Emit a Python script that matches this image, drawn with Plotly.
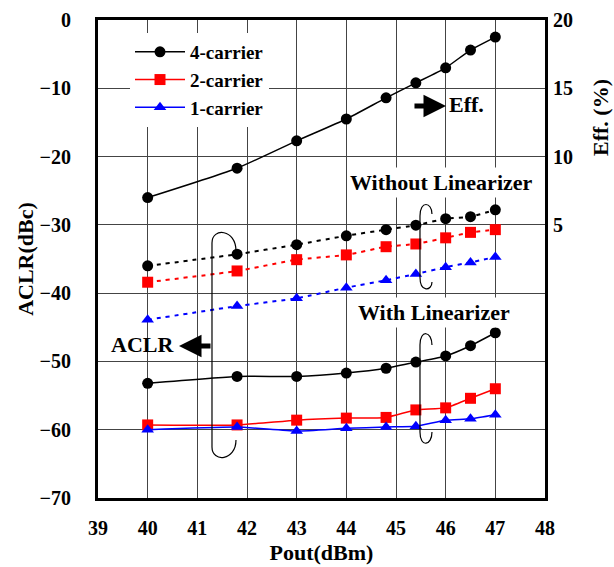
import plotly.graph_objects as go

# ---------------- data ----------------
pout = [40, 41.8, 43, 44, 44.8, 45.4, 46, 46.5, 47]

eff_4c = [7.0, 9.15, 11.15, 12.75, 14.3, 15.4, 16.5, 17.8, 18.75]

aclr_4c_without = [-36.0, -34.3, -32.9, -31.6, -30.7, -30.05, -29.1, -28.8, -27.8]
aclr_2c_without = [-38.4, -36.75, -35.1, -34.4, -33.2, -32.8, -31.9, -31.1, -30.7]
aclr_1c_without = [-43.9, -41.9, -40.75, -39.2, -38.1, -37.2, -36.2, -35.5, -34.7]

aclr_4c_with = [-53.2, -52.2, -52.2, -51.7, -51.0, -50.1, -49.2, -47.7, -45.8]
aclr_2c_with = [-59.3, -59.3, -58.6, -58.3, -58.2, -57.1, -56.8, -55.4, -54.0]
aclr_1c_with = [-60.0, -59.6, -60.2, -59.8, -59.6, -59.5, -58.6, -58.4, -57.8]

x_ticks = [39, 40, 41, 42, 43, 44, 45, 46, 47, 48]
y_ticks = [0, -10, -20, -30, -40, -50, -60, -70]
y2_ticks = [5, 10, 15, 20]

FONT = "Liberation Serif"

# pixel -> data helpers for decorations (plot area 98..545 x, 20..498 y on the page)
def px2x(px):
    return 39 + (px - 98) / 49.67

def px2y(py):
    return -(py - 20) / 6.829

fig = go.Figure()

series = [
    ("4-carrier", "black", "circle", aclr_4c_with, aclr_4c_without),
    ("2-carrier", "red", "square", aclr_2c_with, aclr_2c_without),
    ("1-carrier", "blue", "triangle-up", aclr_1c_with, aclr_1c_without),
]

for name, color, sym, w, wo in series:
    fig.add_trace(go.Scatter(
        x=pout, y=wo, mode="lines+markers", name=name, showlegend=False,
        line=dict(color=color, width=2, dash="4px,5px", shape="spline", smoothing=0.5),
        marker=dict(color=color, symbol=sym, size=11),
    ))

for name, color, sym, w, wo in series:
    fig.add_trace(go.Scatter(
        x=pout, y=w, mode="lines+markers", name=name, showlegend=True,
        line=dict(color=color, width=1.5, shape="spline", smoothing=0.5),
        marker=dict(color=color, symbol=sym, size=11),
    ))

fig.add_trace(go.Scatter(
    x=pout, y=eff_4c, mode="lines+markers", name="Eff", showlegend=False, yaxis="y2",
    line=dict(color="black", width=1.5, shape="spline", smoothing=0.5),
    marker=dict(color="black", symbol="circle", size=11),
))

def loop(xl, xr, ytop, ybot, top_r, bot_r):
    pts = [
        ("M", [(xr, ytop + top_r)]),
        ("C", [(xr, ytop - 4), (xl, ytop - 6), (xl, ytop + 10)]),
        ("L", [(xl, ybot - 10)]),
        ("C", [(xl, ybot + 6), (xr, ybot + 4), (xr, ybot - bot_r)]),
    ]
    s = ""
    for cmd, ps in pts:
        s += cmd + " " + " ".join(f"{px2x(a):.4f},{px2y(b):.4f}" for a, b in ps) + " "
    return s.strip()

shapes = [
    dict(type="path", xref="x", yref="y", path=loop(212, 236, 233, 457, 18, 17),
         line=dict(color="black", width=1.2)),
    dict(type="path", xref="x", yref="y", path=loop(420, 432, 206, 287, 8, 5),
         line=dict(color="black", width=1.2)),
    dict(type="path", xref="x", yref="y", path=loop(420, 432, 335, 442, 10, 10),
         line=dict(color="black", width=1.2)),
]

bold22 = dict(family=FONT, size=22, color="black", weight="bold")

annotations = [
    dict(x=px2x(442), y=px2y(183), xref="x", yref="y", text="Without Linearizer",
         showarrow=False, font=bold22, bgcolor="white", borderpad=2),
    dict(x=px2x(434), y=px2y(313), xref="x", yref="y", text="With Linearizer",
         showarrow=False, font=bold22, bgcolor="white", borderpad=2),
    dict(x=px2x(447), y=px2y(105), xref="x", yref="y", text="Eff.",
         showarrow=False, xanchor="left", font=bold22),
    dict(x=px2x(446), y=px2y(106), xref="x", yref="y", ax=px2x(413), ay=px2y(106),
         axref="x", ayref="y", text="", showarrow=True, arrowhead=2, arrowsize=0.9,
         arrowwidth=5, arrowcolor="black"),
    dict(x=px2x(142), y=px2y(345), xref="x", yref="y", text="ACLR",
         showarrow=False, font=bold22),
    dict(x=px2x(179), y=px2y(346), xref="x", yref="y", ax=px2x(212), ay=px2y(346),
         axref="x", ayref="y", text="", showarrow=True, arrowhead=2, arrowsize=0.9,
         arrowwidth=5, arrowcolor="black"),
    # right-axis title (placed high, as in the reference)
    dict(x=(600 - 98) / 447, y=1 - (118 - 20) / 478, xref="paper", yref="paper",
         xanchor="center", yanchor="middle",
         text="Eff. (%)", textangle=-90, showarrow=False, font=bold22),
]

tickfont = dict(family=FONT, size=20, color="black", weight="bold")

fig.update_layout(
    width=614, height=567,
    margin=dict(l=98, r=69, t=20, b=69, autoexpand=False),
    paper_bgcolor="white", plot_bgcolor="white",
    font=dict(family=FONT, color="black"),
    showlegend=True,
    legend=dict(x=(130 - 98) / 447, y=1 - (33 - 20) / 478, xanchor="left", yanchor="top",
                bgcolor="white", borderwidth=0,
                font=dict(family=FONT, size=19, color="black", weight="bold"),
                tracegroupgap=0, itemwidth=50),
    xaxis=dict(range=[39, 48], tickvals=x_ticks,
               showgrid=True, gridcolor="#444", gridwidth=1, zeroline=False,
               showline=True, linecolor="black", linewidth=3, mirror=True,
               ticks="", tickfont=tickfont, ticklabelstandoff=10,
               title=dict(text="Pout(dBm)", font=bold22, standoff=7)),
    yaxis=dict(range=[-70, 0], tickvals=y_ticks,
               showgrid=True, gridcolor="#444", gridwidth=1, zeroline=False,
               showline=True, linecolor="black", linewidth=3, mirror=True,
               ticks="", tickfont=tickfont, ticklabelstandoff=20,
               title=dict(text="ACLR(dBc)", font=bold22, standoff=0)),
    yaxis2=dict(range=[-15, 20], overlaying="y", side="right",
                tickvals=y2_ticks,
                showgrid=False, zeroline=False, showline=False, ticks="",
                tickfont=tickfont, ticklabelstandoff=7),
    shapes=shapes,
    annotations=annotations,
)

# remove the default 8px page margin so the figure fills the 614x567 window exactly
fig.write_html("out.html",
               config={"displayModeBar": False},
               post_script="document.body.style.margin='0px';document.body.style.overflow='hidden';")
